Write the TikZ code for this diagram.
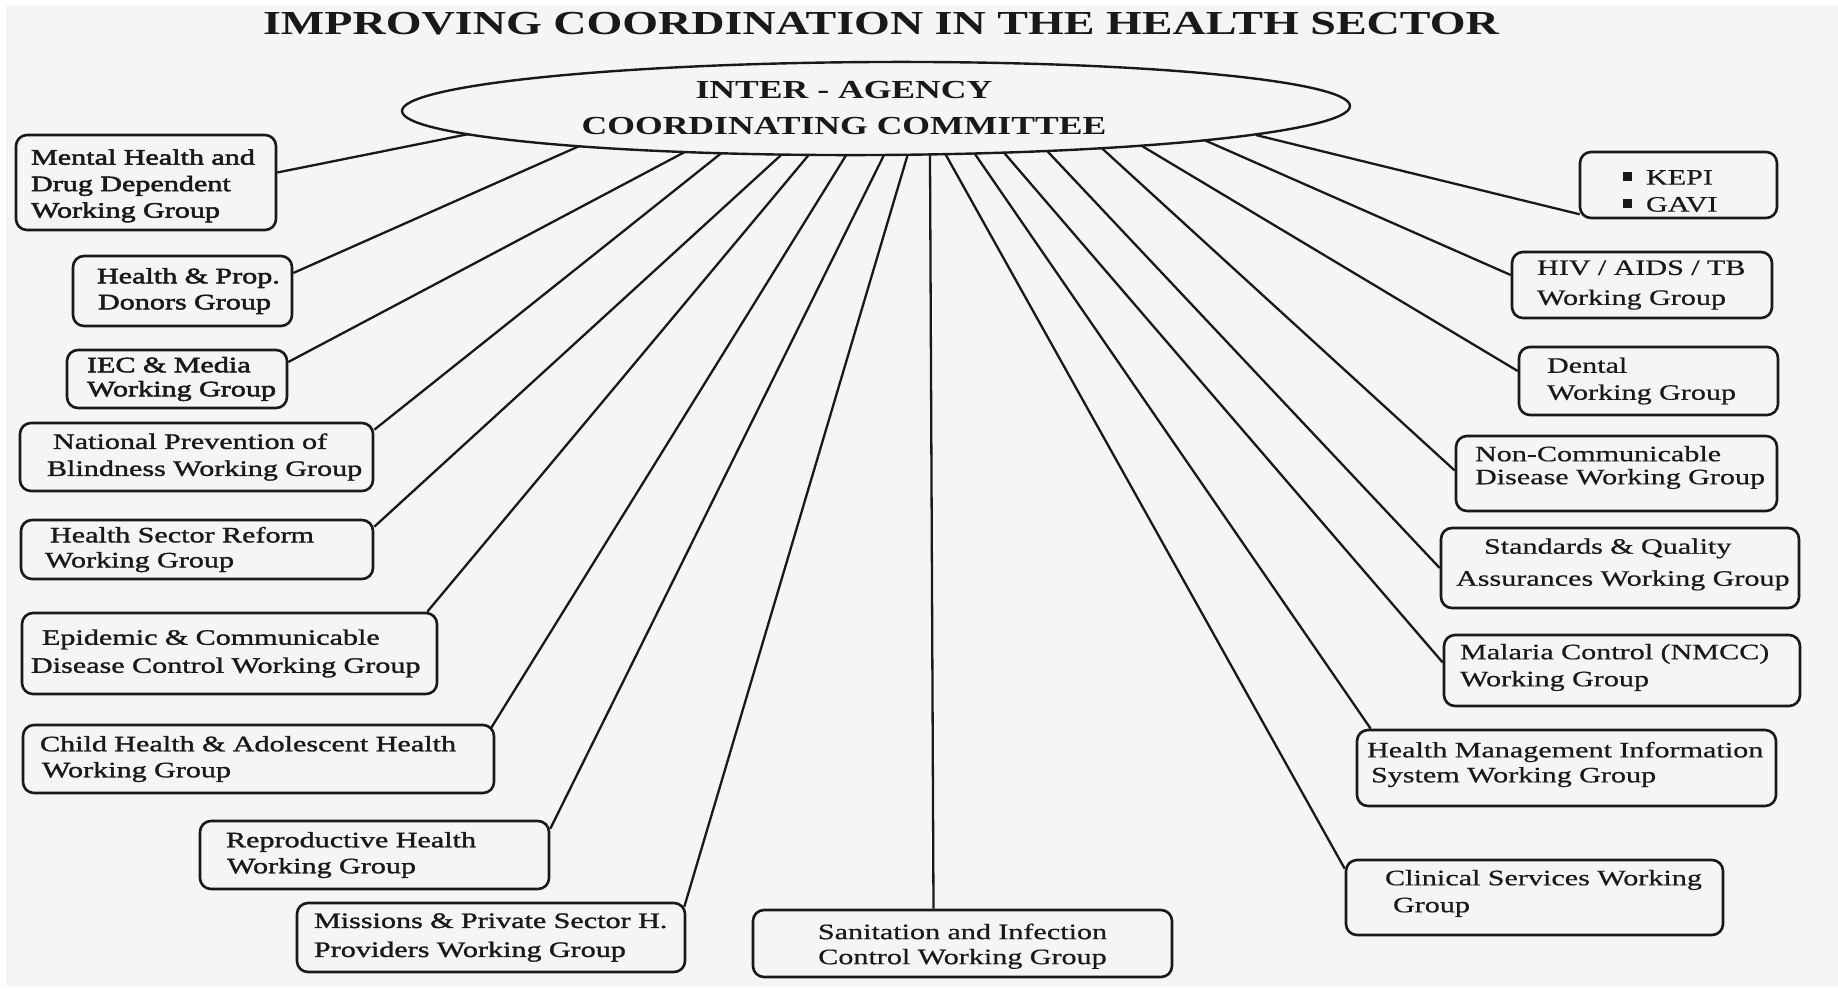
\documentclass[tikz,border=0pt]{standalone}
\usepackage{fontspec}
\setmainfont{Liberation Serif}[FakeStretch=1.37]
\newfontfamily\heavyA{Liberation Serif}[FakeStretch=1.37, FakeBold=2.4]
\newfontfamily\heavyB{Liberation Serif}[FakeStretch=1.37, FakeBold=1.4]
\newfontfamily\heavyC{Liberation Serif}[FakeStretch=1.37, FakeBold=0.6]
\usetikzlibrary{shapes.geometric}
\definecolor{bgc}{RGB}{245,245,245}
\definecolor{inkc}{RGB}{25,25,25}
\pgfdeclarelayer{bglayer}
\pgfsetlayers{bglayer,main}
\newcommand\WGl[2]{\mbox{\hspace*{#1pt}#2}}
\newcommand\bfs[1]{\fontsize{22}{#1}\selectfont}
\newcommand\bul{\rule[3.5pt]{9pt}{9pt}\hspace*{14pt}}
\newcommand\TopS[1]{\rule{0pt}{#1pt}}
\newcommand\BotS[1]{\rule[-#1pt]{0pt}{1pt}}
\begin{document}
\begin{tikzpicture}[x=1pt,y=-1pt,
  wg/.style={draw=inkc, fill=bgc, text=inkc, line width=2.6pt, rounded corners=11pt, inner sep=0pt, align=left},
  conn/.style={draw=inkc, line width=2.3pt, shorten <=-8pt}]
\useasboundingbox (0,0) rectangle (1838,989);
\begin{pgfonlayer}{bglayer}
\fill[white] (0,0) rectangle (1838,989);
\fill[bgc] (6,5) rectangle (1838,986);
\end{pgfonlayer}

% title
\node[text=inkc, font={\fontsize{33.6}{40}\bfseries\selectfont}, inner sep=0pt] (title) at (881,23.5) {IMPROVING COORDINATION IN THE HEALTH SECTOR};

% committee
\node[ellipse, draw=inkc, fill=bgc, line width=2.4pt, minimum width=948pt, minimum height=93pt, inner sep=0pt, rotate=0.3] (ell) at (876,108.5) {};
\node[text=inkc, font={\fontsize{26}{36}\bfseries\selectfont}, align=center, inner sep=0pt] (icc) at (844,108) {INTER - AGENCY\\COORDINATING COMMITTEE};

% left boxes
\node[wg, text width=260pt, minimum height=95pt, font={\bfs{26.5}\heavyA}] (mental) at (146,182.5) {\WGl{15}{\TopS{22}Mental Health and}\\\WGl{15}{Drug Dependent}\\\WGl{15}{Working Group}};
\node[wg, text width=219pt, minimum height=70pt, font={\bfs{26}\heavyA}] (hp) at (182.5,291) {\WGl{24}{Health \& Prop.}\\\WGl{25}{Donors Group}};
\node[wg, text width=220pt, minimum height=58pt, font={\bfs{24}\heavyA}] (iec) at (177,379) {\WGl{20}{IEC \& Media}\\\WGl{20}{Working Group}};
\node[wg, text width=353pt, minimum height=68pt, font={\bfs{27}\heavyB}] (natprev) at (196.5,457) {\WGl{33}{National Prevention of}\\\WGl{27}{Blindness Working Group}};
\node[wg, text width=352pt, minimum height=59pt, font={\bfs{25}\heavyB}] (hsr) at (197,549.5) {\WGl{29}{Health Sector Reform}\\\WGl{24}{Working Group}};
\node[wg, text width=415pt, minimum height=81pt, font={\bfs{28}\heavyB}] (epi) at (229.5,653.5) {\WGl{20}{Epidemic \& Communicable}\\\WGl{9}{Disease Control Working Group}};
\node[wg, text width=471pt, minimum height=68pt, font={\bfs{26}\heavyB}] (child) at (258.5,759) {\WGl{17}{Child Health \& Adolescent Health}\\\WGl{19}{Working Group}};
\node[wg, text width=349pt, minimum height=68pt, font={\bfs{26}\heavyB}] (repro) at (374.5,855) {\WGl{26}{Reproductive Health}\\\WGl{27}{Working Group}};
\node[wg, text width=388pt, minimum height=69pt, font={\bfs{29}\heavyB}] (missions) at (491,937.5) {\WGl{17}{Missions \& Private Sector H.}\\\WGl{17}{Providers Working Group}};
\node[wg, text width=419pt, minimum height=67pt, font={\bfs{25}\heavyC}, align=center] (sani) at (962.5,943.5) {\TopS{21}Sanitation and Infection\\Control Working Group};

% right boxes
\node[wg, text width=197pt, minimum height=66pt, font={\bfs{27}\heavyC}] (kepi) at (1678.5,185) {\WGl{43}{\TopS{26.5}\bul KEPI}\\\WGl{43}{\bul GAVI}};
\node[wg, text width=260pt, minimum height=66pt, font={\bfs{30}\heavyC}] (hiv) at (1642,285) {\WGl{25}{HIV / AIDS / TB}\\\WGl{25}{Working Group}};
\node[wg, text width=259pt, minimum height=68pt, font={\bfs{27}\heavyC}] (dental) at (1648.5,381) {\WGl{28}{Dental}\\\WGl{28}{Working Group}};
\node[wg, text width=321pt, minimum height=75pt, font={\bfs{23}\heavyC}] (noncomm) at (1616.5,473.5) {\WGl{19}{Non-Communicable}\\\WGl{19}{Disease Working Group\BotS{16.8}}};
\node[wg, text width=358pt, minimum height=80pt, font={\bfs{32}\heavyC}] (std) at (1620,568) {\WGl{43}{Standards \& Quality}\\\WGl{15}{Assurances Working Group\BotS{11.8}}};
\node[wg, text width=356pt, minimum height=71pt, font={\bfs{27}\heavyC}] (malaria) at (1622,670.5) {\WGl{16}{Malaria Control (NMCC)}\\\WGl{16}{Working Group\BotS{10.8}}};
\node[wg, text width=419pt, minimum height=76pt, font={\bfs{25}\heavyC}] (hmis) at (1566.5,768) {\WGl{10}{Health Management Information}\\\WGl{14}{System Working Group\BotS{11.8}}};
\node[wg, text width=377pt, minimum height=75pt, font={\bfs{27}\heavyC}] (clinical) at (1534.5,897.5) {\WGl{39}{Clinical Services Working}\\\WGl{47}{Group\BotS{12.8}}};

% connectors (drawn beneath the committee ellipse)
\begin{pgfonlayer}{bglayer}
\draw[conn] ([shift={(-412,26.5)}]ell.center) -- ([yshift=10pt]mental.east);
\draw[conn] ([shift={(-301,39.5)}]ell.center) -- ([yshift=18pt]hp.east);
\draw[conn] ([shift={(-195,45.5)}]ell.center) -- ([yshift=17pt]iec.east);
\draw[conn] ([shift={(-157,46.5)}]ell.center) -- ([yshift=-8pt]natprev.north east);
\draw[conn] ([shift={(-96,47.5)}]ell.center) -- ([yshift=-8pt]hsr.north east);
\draw[conn] ([shift={(-69,48.5)}]ell.center) -- ([xshift=-11pt]epi.north east);
\draw[conn] ([shift={(-31,48.5)}]ell.center) -- ([xshift=-4pt,yshift=-4pt]child.north east);
\draw[conn] ([shift={(7,48.5)}]ell.center) -- ([yshift=-9pt]repro.north east);
\draw[conn] ([shift={(31,48.5)}]ell.center) -- ([xshift=-2pt,yshift=-5pt]missions.north east);
\draw[conn] ([shift={(54,48.5)}]ell.center) -- ([xshift=-29pt]sani.north);
\draw[conn] ([shift={(71,48.5)}]ell.center) -- ([yshift=-10pt]clinical.north west);
\draw[conn] ([shift={(101,48.5)}]ell.center) -- ([xshift=15pt]hmis.north west);
\draw[conn] ([shift={(130,46.5)}]ell.center) -- ([yshift=8pt]malaria.west);
\draw[conn] ([shift={(174,45.5)}]ell.center) -- (std.west);
\draw[conn] ([shift={(230,43.5)}]ell.center) -- ([yshift=3pt]noncomm.west);
\draw[conn] ([shift={(271,40.5)}]ell.center) -- ([yshift=10pt]dental.west);
\draw[conn] ([shift={(335,34.5)}]ell.center) -- ([yshift=10pt]hiv.west);
\draw[conn] ([shift={(388,28.5)}]ell.center) -- ([xshift=1pt,yshift=5pt]kepi.south west);
\end{pgfonlayer}
\end{tikzpicture}
\end{document}
